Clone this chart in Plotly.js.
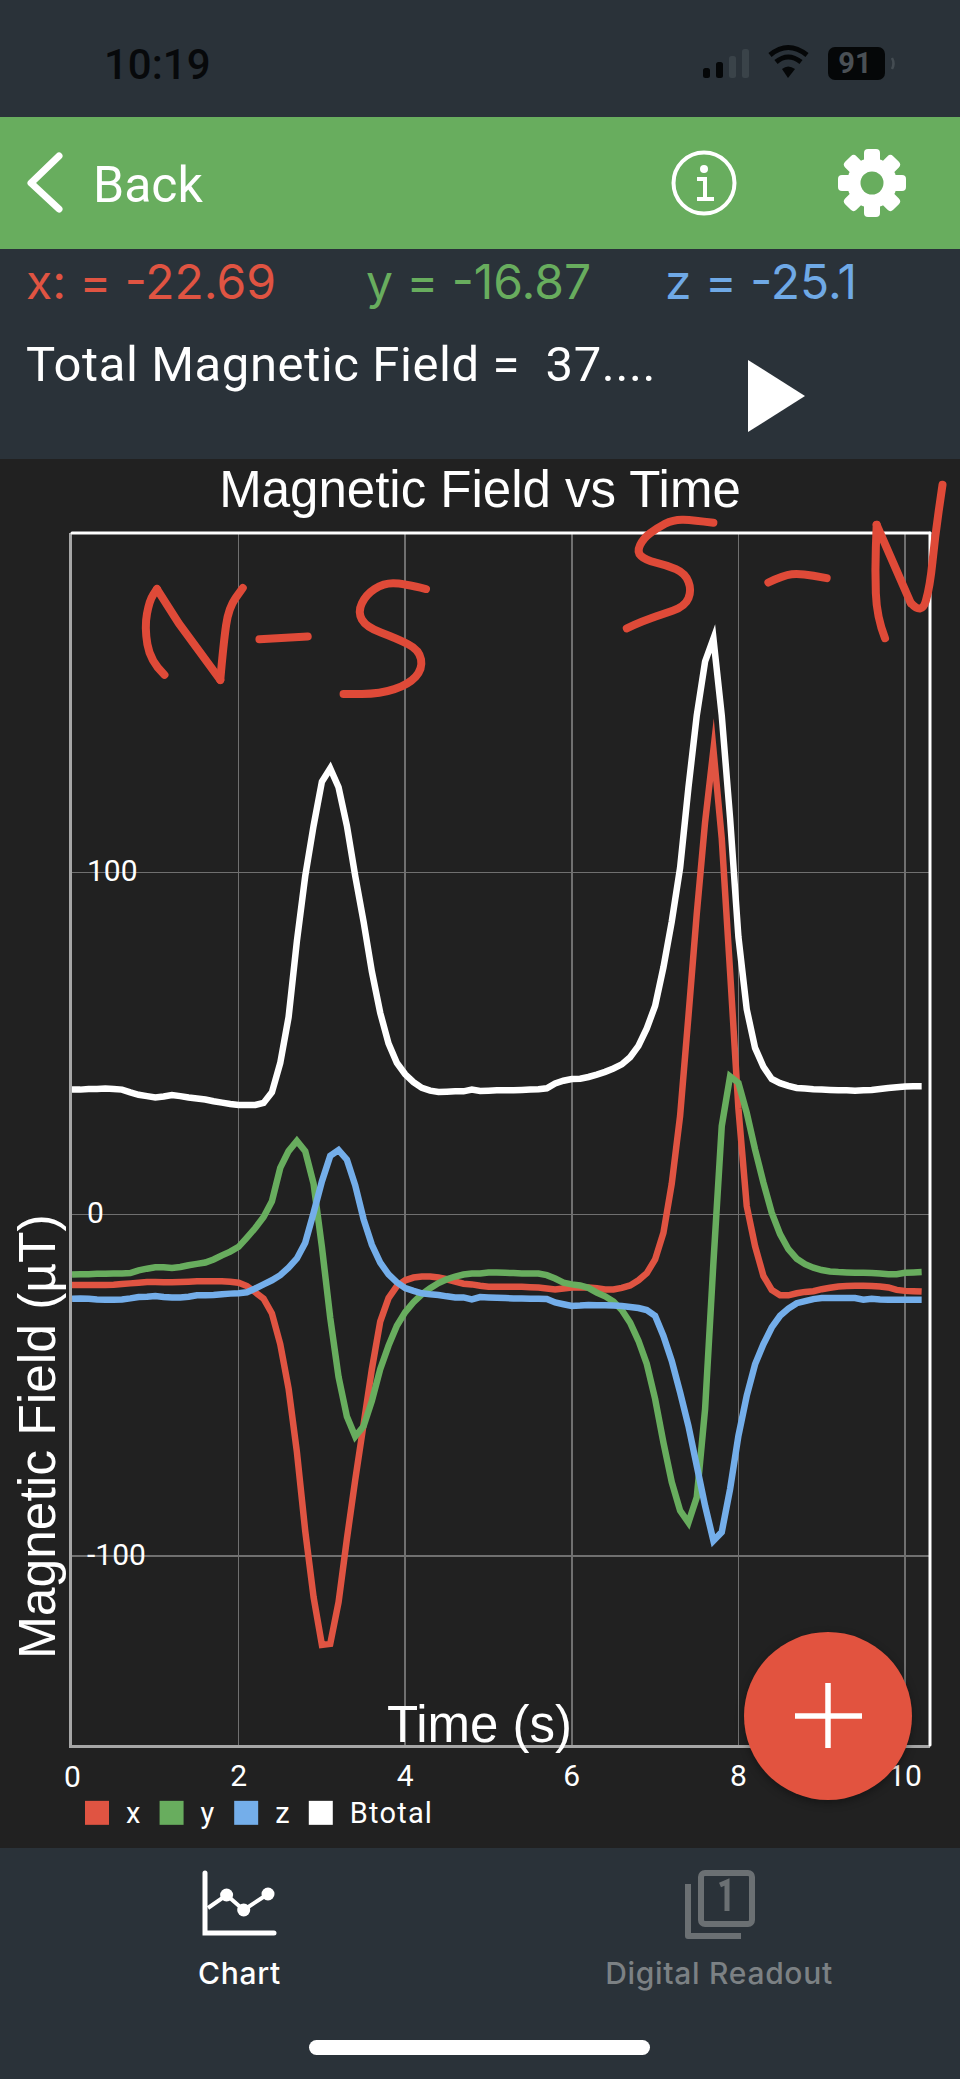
<!DOCTYPE html>
<html>
<head>
<meta charset="utf-8">
<title>Magnetic Field vs Time</title>
<script src="https://cdn.plot.ly/plotly-3.0.1.min.js"></script>
<style>
html,body{margin:0;padding:0;background:#2a3239;width:960px;height:2079px;overflow:hidden;font-family:Roboto,"Liberation Sans",sans-serif}
.abs{position:absolute;white-space:nowrap;line-height:1}
.ui{font-family:Inter,Roboto,sans-serif}
#chart{position:absolute;left:0;top:459px;width:960px;height:1389px}
#chart .js-line{stroke-linejoin:miter !important;stroke-miterlimit:12 !important}
#chart .shapelayer path{stroke-linejoin:round !important;stroke-linecap:round !important}
#chart .legend .scatterpts{transform:translate(11px,1px) scale(2)}
#chart .legend .legendtext{letter-spacing:1.2px}
#chart .legend .scrollbox, #chart .legend .groups, #chart .legend .traces, #chart .legend text{clip-path:none !important}
#bar{position:absolute;left:0;top:117px;width:960px;height:132px;background:#68ad5e}
#fab{position:absolute;left:744px;top:1632px;width:168px;height:168px;border-radius:50%;background:#e2533f;box-shadow:0 3px 8px rgba(0,0,0,.35)}
#home{position:absolute;left:309px;top:2040px;width:341px;height:15px;border-radius:8px;background:#fff}
svg.ov{position:absolute;left:0;top:0;pointer-events:none}
</style>
</head>
<body>
<div id="bar"></div>
<div class="abs" style="left:104px;top:44px;font-size:42px;font-weight:500;color:#07090b">10:19</div>
<div class="abs" style="left:93px;top:160px;font-size:50px;color:#fff">Back</div>
<div class="abs ui" style="left:26px;top:258px;font-size:48px;color:#e05442">x: = -22.69</div>
<div class="abs ui" style="left:366px;top:258px;font-size:48px;color:#68ad5e">y = -16.87</div>
<div class="abs ui" style="left:665px;top:258px;font-size:48px;color:#6fa9e6">z = -25.1</div>
<div class="abs" style="left:26px;top:340px;font-size:49px;letter-spacing:.6px;color:#fff">Total Magnetic Field =&nbsp; 37....</div>
<div id="chart"></div>
<svg class="ov" width="960" height="2079">
  <rect x="703" y="68" width="7" height="10" rx="2.5" fill="#050708"/>
  <rect x="716" y="62" width="7" height="16" rx="2.5" fill="#050708"/>
  <rect x="729" y="56" width="7" height="22" rx="2.5" fill="#3a4349"/>
  <rect x="742" y="49" width="7" height="29" rx="2.5" fill="#3a4349"/>
  <path d="M770 55 Q788 40 807 55 M776 62 Q788 52 801 62" fill="none" stroke="#050708" stroke-width="5"/>
  <path d="M782 69 Q788 64 795 69 L788 78 Z" fill="#050708"/>
  <rect x="828" y="47" width="57" height="33" rx="7" fill="#050708"/>
  <path d="M892 58 Q895 63.5 892 69" fill="none" stroke="#444c52" stroke-width="2.5"/>
  <text x="855" y="73" text-anchor="middle" font-family="Roboto" font-weight="700" font-size="29" fill="#4a5055">91</text>
  <path d="M59 156 L31 183 L59 209" fill="none" stroke="#fff" stroke-width="7" stroke-linecap="round" stroke-linejoin="round"/>
  <circle cx="704" cy="183" r="30.5" fill="none" stroke="#fff" stroke-width="4"/>
  <circle cx="704" cy="169" r="4" fill="#fff"/>
  <path d="M697 179 H705 V198 M697 199 H714" fill="none" stroke="#fff" stroke-width="4"/>
  <g transform="translate(872 183)" fill="#fff">
    <circle r="25"/>
    <rect x="-8" y="-34" width="16" height="68" rx="4"/>
    <rect x="-8" y="-34" width="16" height="68" rx="4" transform="rotate(45)"/>
    <rect x="-8" y="-34" width="16" height="68" rx="4" transform="rotate(90)"/>
    <rect x="-8" y="-34" width="16" height="68" rx="4" transform="rotate(135)"/>
    <circle r="11.5" fill="#68ad5e"/>
  </g>
  <path d="M748 360 L805 396 L748 432 Z" fill="#fff"/>
  <path d="M205 1873 V1933 H274" fill="none" stroke="#fff" stroke-width="5" stroke-linecap="round"/>
  <path d="M208 1908 L226.600 1895 L243.700 1910 L268 1894" fill="none" stroke="#fff" stroke-width="4"/>
  <circle cx="226.600" cy="1895" r="6.500" fill="#fff"/>
  <circle cx="243.700" cy="1910" r="6.500" fill="#fff"/>
  <circle cx="268" cy="1894" r="6.500" fill="#fff"/>
  <rect x="701" y="1873" width="51" height="51" rx="4" fill="none" stroke="#6b7073" stroke-width="6"/>
  <path d="M688 1884 V1936 H741" fill="none" stroke="#6b7073" stroke-width="6" stroke-linejoin="round"/>
  <path d="M720 1885 L727 1882 V1911" fill="none" stroke="#6b7073" stroke-width="5"/>
</svg>
<div class="abs ui" style="left:179px;top:1958px;width:121px;text-align:center;font-size:30px;font-weight:500;letter-spacing:.7px;color:#fff">Chart</div>
<div class="abs ui" style="left:570px;top:1958px;width:298px;text-align:center;font-size:30px;font-weight:500;letter-spacing:.7px;color:#7c8184">Digital Readout</div>
<div id="home"></div>
<div id="fab">
  <svg width="168" height="168" style="position:absolute;left:0;top:0">
    <path d="M84 51 V116 M51 84 H118" stroke="#fff" stroke-width="5.500" fill="none"/>
  </svg>
</div>
<script>
// Time axis, seconds
var time = [0,0.1,0.2,0.3,0.4,0.5,0.6,0.7,0.8,0.9,1,1.1,1.2,1.3,1.4,1.5,1.6,1.7,1.8,1.9,2,2.1,2.2,2.3,2.4,2.5,2.6,2.7,2.8,2.9,3,3.1,3.2,3.3,3.4,3.5,3.6,3.7,3.8,3.9,4,4.1,4.2,4.3,4.4,4.5,4.6,4.7,4.8,4.9,5,5.1,5.2,5.3,5.4,5.5,5.6,5.7,5.8,5.9,6,6.1,6.2,6.3,6.4,6.5,6.6,6.7,6.8,6.9,7,7.1,7.2,7.3,7.4,7.5,7.6,7.7,7.8,7.9,8,8.1,8.2,8.3,8.4,8.5,8.6,8.7,8.8,8.9,9,9.1,9.2,9.3,9.4,9.5,9.6,9.7,9.8,9.9,10,10.1,10.2];
var bx = [-20.7,-20.7,-20.7,-20.7,-20.7,-20.6,-20.4,-20.2,-20,-19.8,-19.8,-19.9,-19.9,-19.8,-19.7,-19.6,-19.6,-19.6,-19.6,-19.7,-20,-21,-22.8,-24.7,-29,-38,-51,-69.6,-92.7,-112,-126,-125.7,-113.5,-95,-77.7,-61.5,-45.3,-31.4,-24.5,-21,-19.3,-18.5,-18.2,-18.2,-18.5,-19,-19.7,-20.3,-20.5,-20.9,-21.2,-21.2,-21.2,-21.2,-21.2,-21.3,-21.4,-21.7,-22,-21.7,-21.4,-21.4,-21.4,-21.6,-22,-22,-21.5,-20.8,-19.3,-17.2,-13.2,-5.4,9,28.8,58,88,114.8,136,110,71,31,2.4,-9.3,-18,-22.1,-23.7,-23.7,-23.1,-22.7,-22.5,-21.9,-21.5,-21.1,-21,-20.9,-20.9,-21,-21.1,-21.4,-22.1,-22.4,-22.5,-22.6];
var by = [-17.6,-17.5,-17.5,-17.4,-17.4,-17.3,-17.3,-17.2,-16.4,-15.9,-15.5,-15.5,-15.7,-15.4,-14.9,-14.5,-14.1,-13.2,-12,-10.9,-9.5,-6.8,-4,-0.8,3.8,13.6,18.5,21.5,18.5,9,-9.5,-30.3,-47.6,-59.2,-65,-62,-54.6,-45.3,-38.4,-32.6,-28.6,-25.7,-23.4,-21.6,-20.1,-19,-18.2,-17.6,-17.3,-17.3,-17,-17,-17.1,-17.2,-17.3,-17.3,-17.3,-17.8,-18.8,-20,-20.5,-20.8,-21.5,-22.9,-24,-25.5,-28,-31.7,-37,-43.8,-54,-66.8,-78.4,-86.7,-90.2,-82.8,-57,-14.1,25.8,40.4,38.5,29.7,19,9.3,0.5,-5.8,-10.2,-13,-14.6,-15.6,-16.3,-16.7,-16.9,-17,-17.1,-17.1,-17.2,-17.3,-17.5,-17.5,-17.1,-17,-16.9];
var bz = [-24.7,-24.6,-24.7,-24.9,-25,-25,-24.9,-24.6,-24.2,-24.1,-23.9,-24.2,-24.3,-24.3,-24.1,-23.7,-23.7,-23.6,-23.4,-23.2,-23.1,-22.8,-21.7,-20.5,-19.3,-17.8,-15.6,-12.9,-8.3,0.4,9.6,17.1,18.8,16,8.5,-1.4,-8.9,-14.1,-17.6,-19.9,-21.6,-22.4,-23.1,-23.4,-23.6,-24,-24.3,-24.3,-24.9,-24.2,-24.3,-24.4,-24.5,-24.6,-24.6,-24.7,-24.7,-24.8,-25.8,-26.3,-26.8,-26.7,-26.5,-26.6,-26.6,-26.7,-26.8,-27.1,-27.4,-28,-29.7,-35.6,-42.9,-52.1,-61.9,-73.6,-85.3,-95.5,-93,-80.4,-64.8,-53.1,-43.9,-38,-33.1,-29.7,-27.6,-26,-25.4,-24.8,-24.5,-24.5,-24.5,-24.5,-24.5,-25,-24.7,-24.9,-25,-25,-25,-25,-25];
var btotal = [36.5,36.5,36.7,36.7,36.8,36.7,36.5,35.7,35,34.6,34.2,34.5,34.9,34.6,34.2,33.9,33.6,33.1,32.7,32.3,32,32,32,32.6,35.7,44.3,57.7,80,99,113.7,126.6,130.5,125,113.7,99,85.7,71,59,50,44.3,41,38.7,37,36.2,35.8,35.9,36,36,36.5,36.1,36.2,36.3,36.3,36.3,36.4,36.5,36.6,36.9,38.3,39.1,39.6,39.7,40.2,40.9,41.7,42.7,43.9,46,49.3,54.4,61,72.3,85.7,101.4,124.9,146,161.8,168.5,146,115.9,81.2,60,48.7,43.2,39.6,38.4,37.6,37,36.8,36.6,36.5,36.4,36.3,36.3,36.2,36.3,36.4,36.7,37,37.2,37.4,37.5,37.5];

var seriesNames = ['x','y','z','Btotal'];
var seriesColors = ['#e05442','#68ad5e','#74aeea','#ffffff'];

var xRange = [0,10.3];
var yRange = [-155.3,199.4];
var xTicks = [0,2,4,6,8,10];
var xTickText = ['0','2','4','6','8','10'];
var yTicks = [-100,0,100];
var yTickText = ['-100','0','100'];

// Hand-written notes on the screenshot, in axis units
var noteN1aT = [1.11,0.94,0.87,0.93,1.02];
var noteN1aV = [157.9,161.8,171.9,179.7,183];
var noteN1bT = [1.02,1.28,1.78];
var noteN1bV = [183,173,156.4];
var noteN1cT = [1.78,1.82,1.88,2.05];
var noteN1cV = [156.4,167.4,177.5,183.3];
var noteDash1t = [2.25,2.83];
var noteDash1v = [168.3,169.1];
var noteS1t = [4.25,3.97,3.74,3.53,3.43,3.53,3.9,4.17,4.21,4.04,3.7,3.26];
var noteS1v = [183,184.7,184.7,181.4,176.3,171.9,168.5,165.2,159.6,155.1,152.3,152.3];
var noteS2t = [7.7,7.46,7.22,7.02,6.86,6.78,6.88,7.14,7.36,7.44,7.36,7.06,6.84,6.66];
var noteS2v = [202.4,203.2,203.4,200.8,197.9,193.9,191.5,190,187.6,182.7,177.9,175.4,173.5,171.5];
var noteDash2t = [8.36,8.54,8.74,9.06];
var noteDash2v = [184.9,187.1,187.6,186.2];
var noteN2aT = [9.76,9.66,9.64,9.66];
var noteN2aV = [168.6,174.9,188.6,201.8];
var noteN2bT = [9.66,9.86,10.07];
var noteN2bV = [201.8,190.6,178.9];
var noteN2cT = [10.07,10.2,10.3,10.36,10.45];
var noteN2cV = [178.9,175.4,183.7,198.3,213.5];

var values = [bx,by,bz,btotal];
var traces = [];
seriesNames.forEach(function(n,i){
  traces.push({type:'scatter',mode:'lines',name:n,x:time,y:values[i],showlegend:false,
    line:{color:seriesColors[i],width:6.5,simplify:false},hoverinfo:'skip'});
});
seriesNames.forEach(function(n,i){
  traces.push({type:'scatter',mode:'markers',name:n,x:[null],y:[null],showlegend:true,
    marker:{symbol:'square',size:12,color:seriesColors[i]}});
});

// The notes run past the plot frame, so they are paper-referenced shapes.
function px(t){return ((t-xRange[0])/(xRange[1]-xRange[0])).toFixed(5);}
function py(v){return ((v-yRange[0])/(yRange[1]-yRange[0])).toFixed(5);}
function notePath(ts,vs,smooth){
  var d='M'+px(ts[0])+','+py(vs[0]);
  for(var i=1;i<ts.length;i++){
    if(smooth && i<ts.length-1){
      var mt=(ts[i]+ts[i+1])/2, mv=(vs[i]+vs[i+1])/2;
      d+=' Q'+px(ts[i])+','+py(vs[i])+' '+px(mt)+','+py(mv);
    } else {
      d+=' L'+px(ts[i])+','+py(vs[i]);
    }
  }
  return d;
}
var noteShapes=[[noteN1aT,noteN1aV,true],[noteN1bT,noteN1bV,false],[noteN1cT,noteN1cV,true],[noteDash1t,noteDash1v,false],[noteS1t,noteS1v,true],[noteS2t,noteS2v,true],[noteDash2t,noteDash2v,true],[noteN2aT,noteN2aV,true],[noteN2bT,noteN2bV,false],[noteN2cT,noteN2cV,true]].map(function(s){
  return {type:'path',xref:'paper',yref:'paper',path:notePath(s[0],s[1],s[2]),line:{color:'#df4a38',width:8},fillcolor:'rgba(0,0,0,0)'};
});

var white='#ffffff', font='Roboto, "Liberation Sans", sans-serif', lib='"Liberation Sans", Roboto, sans-serif';
var layout = {
  width:960,height:1389,
  paper_bgcolor:'#212121',plot_bgcolor:'#212121',
  margin:{l:71.6,r:30,t:74,b:102,pad:0},
  font:{family:font,color:white},
  title:{text:'Magnetic Field vs Time',font:{size:51,color:white,family:lib},xref:'container',x:0.5,xanchor:'center',yref:'container',y:0.978,yanchor:'middle'},
  xaxis:{range:xRange,tickmode:'array',tickvals:xTicks,ticktext:xTickText,showgrid:true,gridcolor:'#707070',gridwidth:1.5,
    zeroline:false,showline:true,linecolor:'#a6a6a6',linewidth:3,ticks:'',ticklabelstandoff:2,tickfont:{size:30,color:white,family:font}},
  yaxis:{range:yRange,tickmode:'array',tickvals:yTicks,ticktext:yTickText,showgrid:true,gridcolor:'#707070',gridwidth:1.5,
    zeroline:false,showline:true,linecolor:'#a6a6a6',linewidth:3,ticks:'',ticklabelposition:'inside',ticklabelstandoff:18,ticklabelshift:-2,tickfont:{size:30,color:white,family:font}},
  shapes:[
    {type:'line',xref:'paper',yref:'paper',x0:0,x1:1,y0:1,y1:1,line:{color:white,width:3}},
    {type:'line',xref:'paper',yref:'paper',x0:1,x1:1,y0:0,y1:1,line:{color:white,width:3}}
  ].concat(noteShapes),
  annotations:[
    {text:'Time (s)',xref:'x',yref:'y',x:4.89,y:-149.4,showarrow:false,xanchor:'center',yanchor:'middle',font:{size:51,color:white,family:lib}},
    {text:'Magnetic Field (µT)',xref:'paper',yref:'paper',x:-0.0405,y:0.2543,showarrow:false,textangle:-90,xanchor:'center',yanchor:'middle',font:{size:51.5,color:white,family:lib}},
    {text:xTickText[0],xref:'paper',yref:'paper',x:0,y:-0.0256,showarrow:false,xanchor:'center',yanchor:'middle',font:{size:30,color:white,family:font}}
  ],
  legend:{orientation:'h',x:0.0163,xanchor:'left',y:-0.0544,yanchor:'middle',bgcolor:'rgba(0,0,0,0)',itemwidth:30,itemsizing:'constant',
    entrywidth:29.6,entrywidthmode:'pixels',font:{size:29,color:white,family:font},itemclick:false,itemdoubleclick:false},
  showlegend:true
};
Plotly.newPlot('chart',traces,layout,{displayModeBar:false,staticPlot:true});
</script>
</body>
</html>
